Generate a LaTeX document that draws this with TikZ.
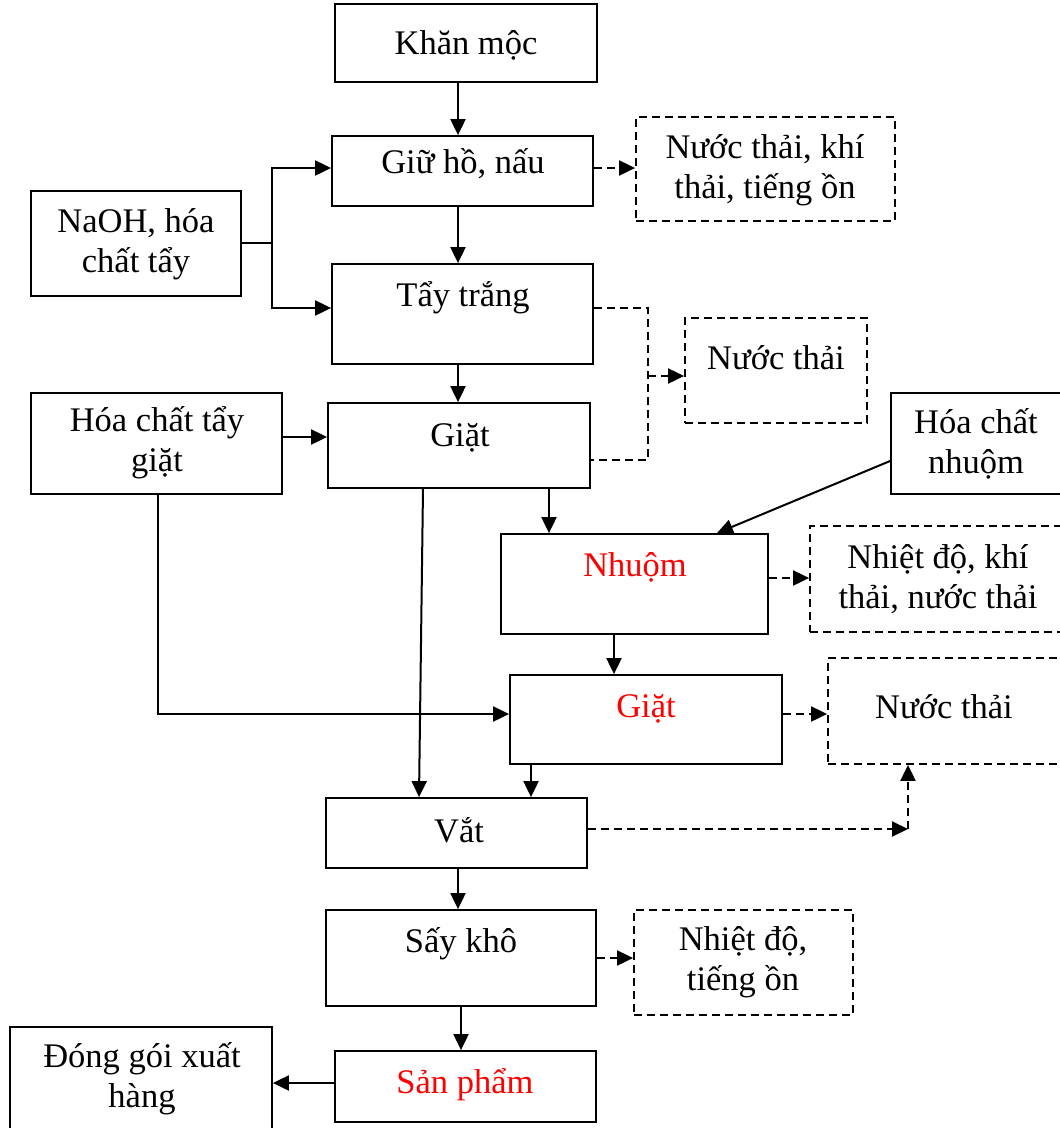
\documentclass[tikz,border=0pt]{standalone}
\usepackage{fontspec}
\setmainfont{Liberation Serif}
\usetikzlibrary{arrows.meta}
\begin{document}
\begin{tikzpicture}[x=1pt,y=-1pt,
  box/.style={draw,line width=1.8pt,inner sep=0pt},
  dbox/.style={draw,line width=1.8pt,dash pattern=on 8pt off 5pt,inner sep=0pt},
  txt/.style={font=\fontsize{34.5}{40}\selectfont,align=center,inner sep=0pt},
  rtxt/.style={txt,text=red},
  ln/.style={line width=2pt},
  arr/.style={line width=2pt,-{Triangle[length=16pt,width=15pt]}},
  darr/.style={arr,dash pattern=on 8pt off 5pt},
  dln/.style={line width=1.8pt,dash pattern=on 8pt off 5pt}]
\useasboundingbox (0,0) rectangle (1060,1128);
\clip (0,0) rectangle (1060,1128);
% helper columns/rows
\coordinate (c158) at (158,0);
\coordinate (c419) at (419,0);
\coordinate (c423) at (423,0);
\coordinate (c458) at (458,0);
\coordinate (c461) at (461,0);
\coordinate (c531) at (531,0);
\coordinate (c549) at (549,0);
\coordinate (c614) at (614,0);
\coordinate (c717) at (717,0);
\coordinate (c908) at (908,0);
\coordinate (r168) at (0,168);
\coordinate (r376) at (0,376);
\coordinate (r437) at (0,437);
\coordinate (r460) at (0,460);
\coordinate (r461) at (0,461);
\coordinate (r578) at (0,578);
\coordinate (r714) at (0,714);
\coordinate (r829) at (0,829);
\coordinate (r958) at (0,958);
\coordinate (r1083) at (0,1083);
% boxes
\node[box,minimum width=262pt,minimum height=78pt] (khan) at (466,43) {};
\node[box,minimum width=261pt,minimum height=70pt] (giu) at (462.5,171) {};
\node[dbox,minimum width=259pt,minimum height=104pt] (w1) at (765.5,169) {};
\node[box,minimum width=210pt,minimum height=105pt] (naoh) at (136,243.5) {};
\node[box,minimum width=261pt,minimum height=100pt] (tay) at (462.5,314) {};
\node[dbox,minimum width=182pt,minimum height=105pt] (w2) at (776,370.5) {};
\node[box,minimum width=251pt,minimum height=101pt] (hctg) at (156.5,443.5) {};
\node[box,minimum width=262pt,minimum height=85pt] (giat1) at (459,445.5) {};
\node[box,minimum width=174pt,minimum height=101pt] (hcn) at (978,443.5) {};
\node[box,minimum width=267pt,minimum height=100pt] (nhuom) at (634.5,584) {};
\node[dbox,minimum width=255pt,minimum height=106pt] (w3) at (937.5,579) {};
\node[box,minimum width=272pt,minimum height=89pt] (giat2) at (646,719.5) {};
\node[dbox,minimum width=237pt,minimum height=106pt] (w4) at (946.5,711) {};
\node[box,minimum width=261pt,minimum height=70pt] (vat) at (456.5,833) {};
\node[box,minimum width=270pt,minimum height=96pt] (say) at (461,958) {};
\node[dbox,minimum width=219pt,minimum height=105pt] (w5) at (743.5,962.5) {};
\node[box,minimum width=261pt,minimum height=71pt] (sp) at (465.5,1086.5) {};
\node[box,minimum width=262pt,minimum height=108pt] (dg) at (141,1081) {};
% texts
\node[txt] (t1) at (466,45) {Khăn mộc};
\node[txt] (t2) at (463,164) {Giữ hồ, nấu};
\node[txt] (t3) at (765,170) {Nước thải, khí\\thải, tiếng ồn};
\node[txt] (t4) at (136,244) {NaOH, hóa\\chất tẩy};
\node[txt] (t5) at (463,298) {Tẩy trắng};
\node[txt] (t6) at (776,358) {Nước thải};
\node[txt] (t7) at (157,443) {Hóa chất tẩy\\giặt};
\node[txt] (t8) at (460,438) {Giặt};
\node[txt] (t9) at (976,444) {Hóa chất\\nhuộm};
\node[rtxt] (t10) at (635,567) {Nhuộm};
\node[txt] (t11) at (938,579) {Nhiệt độ, khí\\thải, nước thải};
\node[rtxt] (t12) at (646,709) {Giặt};
\node[txt] (t13) at (944,707) {Nước thải};
\node[txt] (t14) at (459,830) {Vắt};
\node[txt] (t15) at (461,944) {Sấy khô};
\node[txt] (t16) at (743,962) {Nhiệt độ,\\tiếng ồn};
\node[rtxt] (t17) at (465,1085) {Sản phẩm};
\node[txt] (t18) at (142,1079) {Đóng gói xuất\\hàng};
% main flow
\draw[arr] (khan.south -| c458) -- (giu.north -| c458);
\draw[arr] (giu.south -| c458) -- (tay.north -| c458);
\draw[arr] (tay.south -| c458) -- (giat1.north -| c458);
\draw[arr] (giat1.south -| c549) -- (nhuom.north -| c549);
\draw[arr] (nhuom.south -| c614) -- (giat2.north -| c614);
\draw[arr] (giat2.south -| c531) -- (vat.north -| c531);
\draw[arr] (giat1.south -| c423) -- (vat.north -| c419);
\draw[arr] (vat.south -| c458) -- (say.north -| c458);
\draw[arr] (say.south -| c461) -- (sp.north -| c461);
\draw[arr] (sp.west |- r1083) -- (dg.east |- r1083);
% inputs
\coordinate (j1) at (272,243);
\draw[ln] (naoh.east |- j1) -- (j1);
\draw[arr] (j1) |- (giu.west |- r168);
\draw[arr] (j1) |- ([yshift=6pt]tay.west);
\draw[arr] (hctg.east |- r437) -- (giat1.west |- r437);
\draw[arr] (hctg.south -| c158) |- (giat2.west |- r714);
\draw[arr] (hcn.west |- r461) -- (nhuom.north -| c717);
% wastes
\draw[darr] (giu.east |- r168) -- (w1.west |- r168);
\coordinate (m1) at (648,308);
\coordinate (m2) at (648,460);
\coordinate (m3) at (648,376);
\draw[dln] (tay.east |- m1) -- (m1) -- (m2) -- (giat1.east |- m2);
\draw[darr] (m3) -- (w2.west |- m3);
\draw[darr] (nhuom.east |- r578) -- (w3.west |- r578);
\draw[darr] (giat2.east |- r714) -- (w4.west |- r714);
\draw[darr] (vat.east |- r829) -- (c908 |- r829);
\draw[darr] (c908 |- r829) -- (w4.south -| c908);
\draw[darr] (say.east |- r958) -- (w5.west |- r958);
\end{tikzpicture}
\end{document}
